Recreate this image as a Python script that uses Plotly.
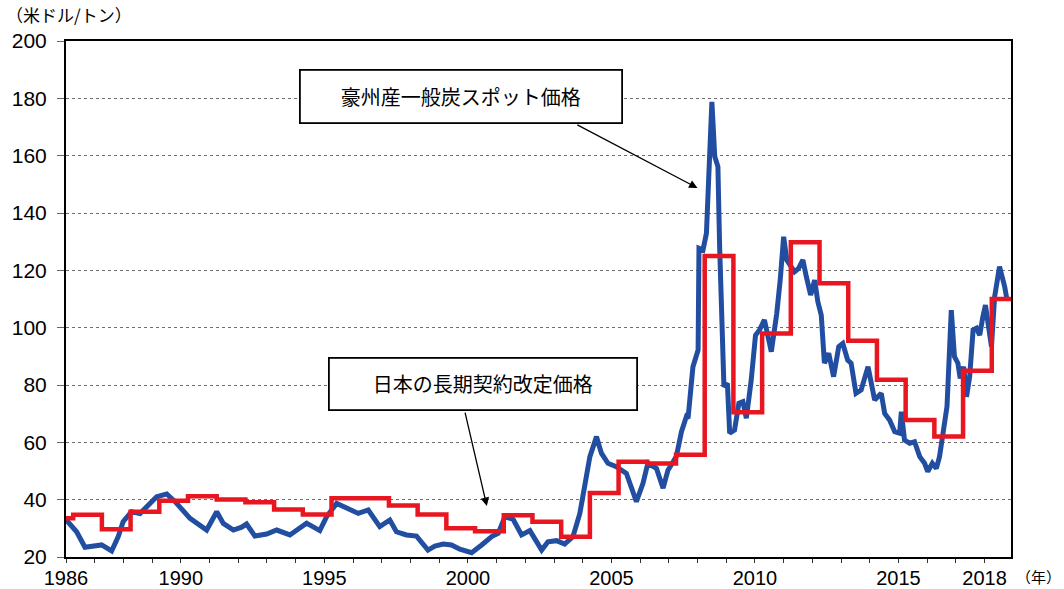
import plotly.graph_objects as go

# ---- data ----
spot_years = [1986.00, 1986.37, 1986.66, 1987.24, 1987.59, 1987.82, 1987.99, 1988.28, 1988.58, 1988.87,
              1989.16, 1989.51, 1989.80, 1990.32, 1990.90, 1991.25, 1991.48, 1991.83, 1992.12, 1992.29,
              1992.58, 1992.99, 1993.34, 1993.80, 1994.38, 1994.84, 1995.08, 1995.43, 1995.77, 1996.18,
              1996.53, 1996.93, 1997.28, 1997.51, 1997.86, 1998.21, 1998.61, 1998.85, 1999.14, 1999.43,
              1999.72, 2000.13, 2000.48, 2000.83, 2001.06, 2001.29, 2001.58, 2001.87, 2002.16, 2002.57,
              2002.79, 2003.09, 2003.37, 2003.66, 2003.90, 2004.07, 2004.25, 2004.48, 2004.65, 2004.88,
              2005.17, 2005.52, 2005.87, 2006.10, 2006.27, 2006.57, 2006.80, 2006.97, 2007.26, 2007.44,
              2007.61, 2007.67, 2007.84, 2008.02, 2008.05, 2008.19, 2008.31, 2008.42, 2008.50, 2008.60,
              2008.71, 2008.77, 2008.83, 2008.92, 2009.04, 2009.12, 2009.29, 2009.44, 2009.58, 2009.70,
              2009.87, 2010.02, 2010.16, 2010.33, 2010.57, 2010.76, 2010.88, 2011.00, 2011.11, 2011.38,
              2011.52, 2011.67, 2011.79, 2011.94, 2012.08, 2012.19, 2012.31, 2012.42, 2012.57, 2012.74,
              2012.92, 2013.06, 2013.23, 2013.35, 2013.52, 2013.70, 2013.94, 2014.17, 2014.40, 2014.52,
              2014.69, 2014.87, 2015.04, 2015.10, 2015.21, 2015.39, 2015.56, 2015.74, 2015.91, 2016.02,
              2016.18, 2016.32, 2016.43, 2016.55, 2016.69, 2016.84, 2016.95, 2017.07, 2017.15, 2017.27,
              2017.37, 2017.48, 2017.60, 2017.72, 2017.83, 2017.94, 2018.03, 2018.12, 2018.24, 2018.35,
              2018.52, 2018.70, 2018.78]
spot_price = [33.0, 28.8, 23.4, 24.2, 22.1, 27.1, 32.3, 35.8, 35.2, 38.1,
              41.0, 42.0, 39.3, 33.5, 29.4, 35.8, 31.7, 29.4, 30.4, 31.5,
              27.3, 28.0, 29.4, 27.7, 31.8, 29.2, 34.1, 38.7, 37.0, 35.2,
              36.4, 30.6, 32.9, 28.8, 27.7, 27.3, 22.4, 23.8, 24.5, 24.2,
              22.7, 21.5, 24.2, 27.1, 28.3, 34.1, 33.1, 27.7, 29.2, 22.4,
              25.3, 25.7, 24.5, 27.1, 35.2, 44.5, 55.0, 62.0, 56.2, 52.7,
              51.5, 49.2, 39.3, 45.7, 52.7, 50.9, 44.0, 50.3, 55.0, 63.7,
              68.9, 68.4, 86.4, 92.2, 127.7, 127.1, 132.9, 159.7, 178.8, 159.7,
              156.2, 128.3, 105.0, 79.4, 80.6, 63.2, 64.3, 73.6, 74.2, 68.4,
              81.7, 97.4, 99.2, 102.7, 91.6, 105.0, 116.6, 131.7, 123.6, 119.5,
              120.7, 123.6, 117.8, 111.4, 116.6, 109.1, 104.4, 87.6, 91.1, 82.9,
              93.4, 94.5, 88.7, 87.6, 77.1, 78.3, 86.4, 74.8, 77.1, 70.1,
              67.8, 63.7, 63.2, 70.7, 60.8, 59.7, 60.2, 55.0, 52.7, 49.8,
              52.7, 50.9, 55.0, 64.3, 72.5, 106.1, 89.9, 87.6, 82.3, 86.4,
              75.9, 82.9, 99.2, 99.8, 97.4, 103.8, 107.9, 101.6, 93.4, 110.8,
              121.3, 114.3, 109.7]

contract_years = [1986.00, 1986.25, 1987.25, 1988.25, 1989.25, 1990.25, 1991.25, 1992.25, 1993.25,
                  1994.25, 1995.25, 1997.25, 1998.25, 1999.25, 2000.25, 2001.25, 2002.25, 2003.25,
                  2004.25, 2005.25, 2006.25, 2007.25, 2008.25, 2009.25, 2010.25, 2011.25, 2012.25,
                  2013.25, 2014.25, 2015.25, 2016.25, 2017.25, 2018.25, 2018.92]
contract_price = [33.5, 34.7, 29.7, 35.8, 39.6, 41.2, 40.1, 39.1, 36.6,
                  34.8, 40.5, 38.0, 34.8, 30.0, 29.0, 34.6, 32.3, 27.1,
                  42.3, 53.2, 52.6, 55.7, 125.0, 70.5, 98.0, 129.8, 115.5,
                  95.4, 81.8, 67.8, 62.0, 85.0, 110.0, 110.0]

tick_years = list(range(1986, 2019))
labelled_years = [1986, 1990, 1995, 2000, 2005, 2010, 2015, 2018]
tick_text = [str(y) if y in labelled_years else "" for y in tick_years]

spot_label = "豪州産一般炭スポット価格"
contract_label = "日本の長期契約改定価格"
y_unit = "（米ドル/トン）"
x_unit = "（年）"

BLUE = "rgb(34,78,162)"
RED = "rgb(232,22,32)"
JP = "Noto Sans CJK JP"
NUM = "Liberation Sans Narrow, Arial Narrow, Liberation Sans, Arial"

fig = go.Figure()
fig.add_trace(go.Scatter(x=spot_years, y=spot_price, mode="lines",
                         line=dict(color=BLUE, width=5), name=spot_label))
fig.add_trace(go.Scatter(x=contract_years, y=contract_price, mode="lines",
                         line=dict(color=RED, width=4.5, shape="hv"), name=contract_label))

fig.update_layout(
    width=1064, height=589,
    margin=dict(l=66, r=53, t=41, b=32, autoexpand=False),
    paper_bgcolor="white", plot_bgcolor="white",
    showlegend=False,
    xaxis=dict(range=[1986, 2018.92], tickmode="array", tickvals=tick_years, ticktext=tick_text,
               ticks="outside", ticklen=4, tickcolor="#333", tickwidth=1,
               showline=True, linecolor="black", linewidth=2, mirror=True,
               showgrid=False, zeroline=False, automargin=False, ticklabelstandoff=-2,
               tickfont=dict(family=NUM, size=20, color="black")),
    yaxis=dict(range=[20, 200], dtick=20, tick0=20,
               ticks="outside", ticklen=7, tickcolor="#666", tickwidth=1,
               showline=True, linecolor="black", linewidth=2, mirror=True,
               showgrid=True, gridcolor="#6e6e6e", gridwidth=1, griddash="dot",
               zeroline=False, automargin=False, ticklabelstandoff=6,
               tickfont=dict(family="Liberation Sans, Arial", size=21, color="black")),
)

annotations = [
    dict(xref="paper", yref="paper", x=-0.066, y=1.052, xanchor="left", yanchor="middle",
         text=y_unit, showarrow=False, font=dict(family=JP, size=17, color="black")),
    dict(xref="paper", yref="paper", x=1.003, y=-0.037, xanchor="left", yanchor="middle",
         text=x_unit, showarrow=False, font=dict(family=JP, size=15, color="black")),
    # boxes
    dict(xref="x", yref="y", x=1999.75, y=180.6, xanchor="center", yanchor="middle",
         text=spot_label, showarrow=False, width=318, height=49, borderpad=1,
         bordercolor="black", borderwidth=1.8, bgcolor="white",
         font=dict(family=JP, size=20, color="black")),
    dict(xref="x", yref="y", x=2000.52, y=80.35, xanchor="center", yanchor="middle",
         text=contract_label, showarrow=False, width=304, height=48, borderpad=1,
         bordercolor="black", borderwidth=1.8, bgcolor="white",
         font=dict(family=JP, size=20, color="black")),
    # arrows
    dict(xref="x", yref="y", axref="x", ayref="y", x=2008.0, y=148.7, ax=2003.76, ay=171.0,
         text="", showarrow=True, arrowhead=2, arrowsize=1.3, arrowwidth=1.3, arrowcolor="black",
         standoff=0),
    dict(xref="x", yref="y", axref="x", ayref="y", x=2000.66, y=37.8, ax=1999.89, ay=70.9,
         text="", showarrow=True, arrowhead=2, arrowsize=1.3, arrowwidth=1.3, arrowcolor="black",
         standoff=0),
]
fig.update_layout(annotations=annotations)

fig.write_html("out.html")
